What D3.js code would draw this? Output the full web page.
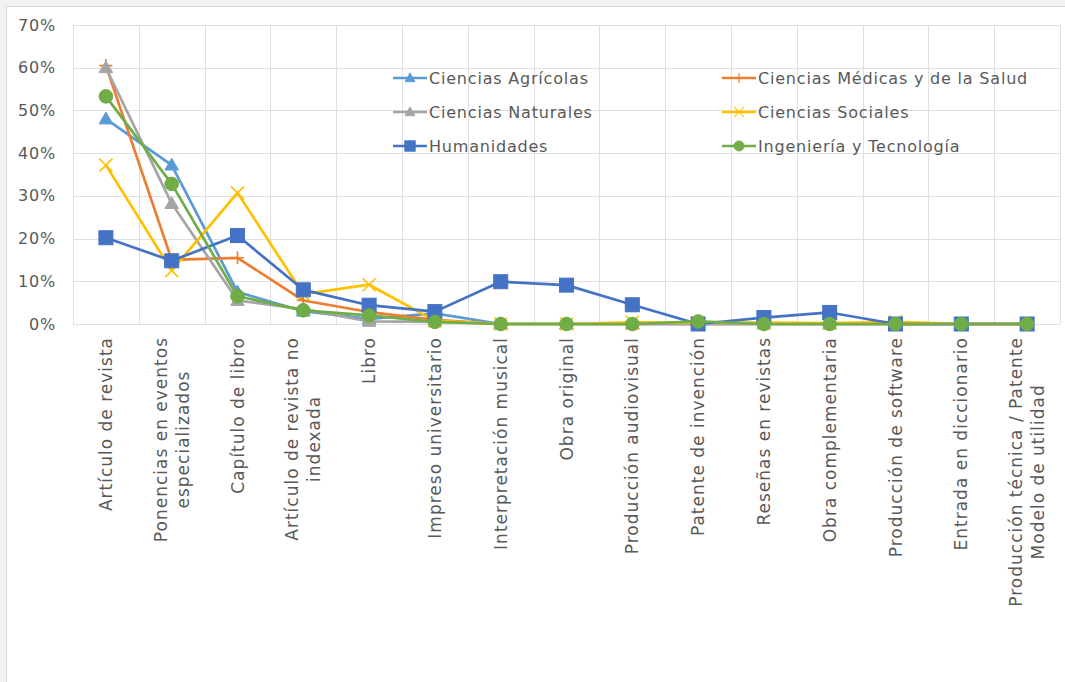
<!DOCTYPE html>
<html>
<head>
<meta charset="utf-8">
<script src="https://cdn.jsdelivr.net/npm/d3@7/dist/d3.min.js"></script>
<style>
  html, body { margin: 0; padding: 0; background: #f2f2f2; }
  svg { display: block; }
  text { font-family: "DejaVu Sans", Verdana, sans-serif; fill: #595959; }
</style>
</head>
<body>
<svg id="chart" width="1065" height="682"></svg>
<script>
// Product types (x axis), each split into the lines drawn under the axis
const categories = [
  "Artículo de revista", "Ponencias en eventos especializados", "Capítulo de libro",
  "Artículo de revista no indexada", "Libro", "Impreso universitario",
  "Interpretación musical", "Obra original", "Producción audiovisual",
  "Patente de invención", "Reseñas en revistas", "Obra complementaria",
  "Producción de software", "Entrada en diccionario",
  "Producción técnica / Patente Modelo de utilidad"
];
const categoryLines = [
  ["Artículo de revista"], ["Ponencias en eventos", "especializados"], ["Capítulo de libro"],
  ["Artículo de revista no", "indexada"], ["Libro"], ["Impreso universitario"],
  ["Interpretación musical"], ["Obra original"], ["Producción audiovisual"],
  ["Patente de invención"], ["Reseñas en revistas"], ["Obra complementaria"],
  ["Producción de software"], ["Entrada en diccionario"],
  ["Producción técnica / Patente", "Modelo de utilidad"]
];

// Share of production per knowledge area (percent)
const agricolas   = [48.0, 37.2, 7.5, 3.0, 1.2, 2.5, 0, 0, 0, 0, 0, 0, 0, 0, 0];
const medicas     = [60.5, 15.0, 15.5, 5.5, 2.8, 1.0, 0, 0, 0, 0, 0, 0, 0, 0, 0];
const naturales   = [60.0, 28.2, 5.5, 3.5, 0.6, 0.5, 0, 0, 0, 0, 0, 0, 0, 0, 0];
const sociales    = [37.2, 12.5, 30.7, 7.0, 9.2, 0.8, 0, 0, 0.4, 0.3, 0.3, 0.2, 0.5, 0, 0];
const humanidades = [20.2, 14.8, 20.7, 8.0, 4.4, 2.9, 9.9, 9.1, 4.5, 0, 1.5, 2.7, 0, 0, 0];
const ingenieria  = [53.3, 32.8, 6.5, 3.2, 2.0, 0.5, 0, 0, 0, 0.6, 0, 0, 0, 0, 0];

const seriesNames = [
  "Ciencias Agrícolas", "Ciencias Médicas y de la Salud", "Ciencias Naturales",
  "Ciencias Sociales", "Humanidades", "Ingeniería y Tecnología"
];
const seriesValues = [agricolas, medicas, naturales, sociales, humanidades, ingenieria];
const seriesColors = ["#5B9BD5", "#ED7D31", "#A5A5A5", "#FFC000", "#4472C4", "#70AD47"];
const seriesMarkers = ["triangle", "plus", "triangle", "cross", "square", "circle"];

const yTicks = [0, 0.1, 0.2, 0.3, 0.4, 0.5, 0.6, 0.7];

const svg = d3.select("#chart");

// white chart frame
svg.append("rect")
  .attr("x", 6.5).attr("y", 6.5).attr("width", 1070).attr("height", 690)
  .attr("fill", "#ffffff").attr("stroke", "#d9d9d9");

const plot = { left: 73, right: 1060, top: 25, bottom: 324 };

const x = d3.scaleBand().domain(categories).range([plot.left, plot.right]).padding(0);
const y = d3.scaleLinear().domain([0, 0.7]).range([plot.bottom, plot.top]);
const cx = c => x(c) + x.bandwidth() / 2;

// gridlines
const grid = svg.append("g");
grid.selectAll("line.h").data(yTicks).join("line")
  .attr("x1", plot.left).attr("x2", plot.right)
  .attr("y1", d => Math.round(y(d)) + 0.5).attr("y2", d => Math.round(y(d)) + 0.5)
  .attr("stroke", "#e0e0e0").attr("stroke-width", 1);
const vLines = categories.map(c => x(c)).concat([plot.right]);
grid.selectAll("line.v").data(vLines).join("line")
  .attr("x1", d => Math.round(d) + 0.5).attr("x2", d => Math.round(d) + 0.5)
  .attr("y1", plot.top).attr("y2", plot.bottom)
  .attr("stroke", "#e0e0e0").attr("stroke-width", 1);

// y axis
const yAxis = svg.append("g")
  .attr("transform", `translate(${plot.left - 17},0)`)
  .call(d3.axisLeft(y).tickValues(yTicks).tickFormat(d3.format(".0%")).tickSize(0).tickPadding(0));
yAxis.select(".domain").remove();
yAxis.selectAll("text")
  .style("font-family", "'DejaVu Sans', Verdana, sans-serif")
  .style("font-size", "16px").style("letter-spacing", "0.8px").attr("fill", "#595959");

// x axis labels, rotated, lines centred on each other, block top-aligned below the axis
const xLab = svg.append("g");
const labelTop = 337;
const lineGap = 22;
categories.forEach((c, i) => {
  const lines = categoryLines[i];
  const g = xLab.append("g");
  const texts = lines.map((ln, j) => g.append("text")
    .attr("font-size", 17)
    .style("letter-spacing", "1px")
    .attr("text-anchor", "middle")
    .attr("dominant-baseline", "central")
    .text(ln));
  const maxW = d3.max(texts, t => t.node().getComputedTextLength());
  texts.forEach((t, j) => {
    const px = cx(c) + (j - (lines.length - 1) / 2) * lineGap;
    const py = labelTop + maxW / 2;
    t.attr("transform", `translate(${px},${py}) rotate(-90)`);
  });
});

// marker drawing
function drawMarker(sel, type, color, px, py) {
  if (type === "triangle") {
    sel.append("path")
      .attr("d", d3.symbol().type(d3.symbolTriangle).size(80)())
      .attr("transform", `translate(${px},${py + 1})`)
      .attr("fill", color).attr("stroke", color).attr("stroke-width", 1);
  } else if (type === "square") {
    sel.append("rect")
      .attr("x", px - 7).attr("y", py - 7).attr("width", 14).attr("height", 14)
      .attr("fill", color).attr("stroke", color).attr("stroke-width", 1);
  } else if (type === "circle") {
    sel.append("circle").attr("cx", px).attr("cy", py).attr("r", 6.8)
      .attr("fill", color).attr("stroke", color).attr("stroke-width", 1);
  } else if (type === "plus") {
    sel.append("path")
      .attr("d", `M${px - 6.5},${py}H${px + 6.5}M${px},${py - 6.5}V${py + 6.5}`)
      .attr("stroke", color).attr("stroke-width", 1.6).attr("fill", "none");
  } else if (type === "cross") {
    sel.append("path")
      .attr("d", `M${px - 6.5},${py - 6.5}L${px + 6.5},${py + 6.5}M${px - 6.5},${py + 6.5}L${px + 6.5},${py - 6.5}`)
      .attr("stroke", color).attr("stroke-width", 1.6).attr("fill", "none");
  }
}

// series lines + markers
const line = d3.line().x((d, i) => cx(categories[i])).y(d => y(d / 100));
const seriesG = svg.append("g");
seriesValues.forEach((vals, s) => {
  const g = seriesG.append("g");
  g.append("path").datum(vals)
    .attr("d", line)
    .attr("fill", "none")
    .attr("stroke", seriesColors[s])
    .attr("stroke-width", 2.7)
    .attr("stroke-linejoin", "round");
  vals.forEach((v, i) => drawMarker(g, seriesMarkers[s], seriesColors[s], cx(categories[i]), y(v / 100)));
});

// legend: two columns, three rows
const legend = svg.append("g");
const colX = [393, 722];
const rowY = [78, 112, 146];
seriesNames.forEach((name, s) => {
  const lx = colX[s % 2], ly = rowY[Math.floor(s / 2)];
  const g = legend.append("g");
  g.append("line").attr("x1", lx).attr("x2", lx + 34).attr("y1", ly).attr("y2", ly)
    .attr("stroke", seriesColors[s]).attr("stroke-width", 2.7);
  const mk = g.append("g").attr("transform", `translate(${lx + 17},${ly}) scale(0.75) translate(${-(lx + 17)},${-ly})`);
  drawMarker(mk, seriesMarkers[s], seriesColors[s], lx + 17, ly);
  g.append("text").attr("x", lx + 36).attr("y", ly)
    .attr("dominant-baseline", "central")
    .attr("font-size", 16)
    .style("letter-spacing", "0.8px")
    .text(name);
});
</script>
</body>
</html>
